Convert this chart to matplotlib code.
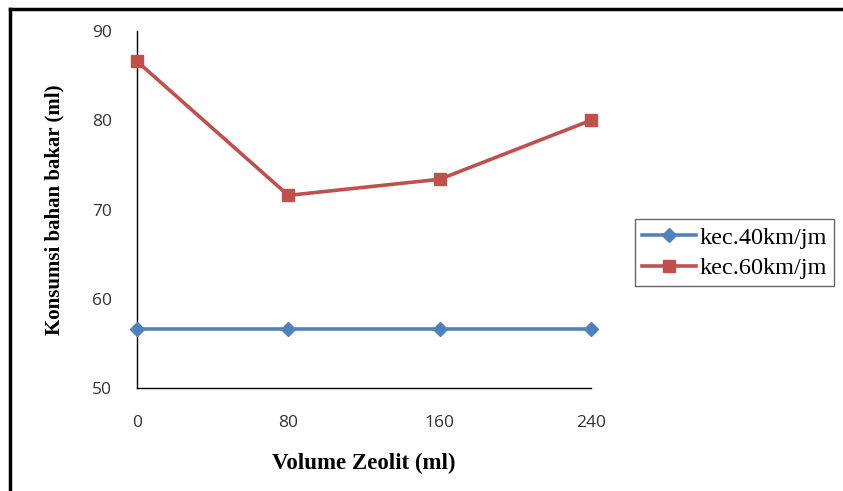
import matplotlib.pyplot as plt
from matplotlib.lines import Line2D

# data
volume = [0, 80, 160, 240]
kec40 = [56.6, 56.6, 56.6, 56.6]
kec60 = [86.6, 71.6, 73.4, 80.0]
yticks = [50, 60, 70, 80, 90]

blue = "#4F81BD"
red = "#C0504D"

fig = plt.figure(figsize=(8.43, 4.91), dpi=100)
ax = fig.add_axes([0.1625, 0.209, 0.5385, 0.728])

ax.plot(volume, kec40, color=blue, lw=2.6, marker="D", markersize=7.5,
        label="kec.40km/jm", clip_on=False, zorder=3)
ax.plot(volume, kec60, color=red, lw=2.6, marker="s", markersize=8.5,
        label="kec.60km/jm", clip_on=False, zorder=3)

ax.set_xlim(0, 240)
ax.set_ylim(50, 90)
ax.set_xticks(volume)
ax.set_yticks(yticks)
ax.tick_params(length=0, labelsize=12.5, labelcolor="#333333")
ax.tick_params(axis="y", pad=18)
ax.tick_params(axis="x", pad=19)
for lab in ax.get_xticklabels() + ax.get_yticklabels():
    lab.set_family("Open Sans")

ax.spines["top"].set_visible(False)
ax.spines["right"].set_visible(False)
ax.spines["left"].set_linewidth(1.0)
ax.spines["bottom"].set_linewidth(1.0)

ax.set_xlabel("Volume Zeolit (ml)", family="Liberation Serif",
              fontweight="bold", fontsize=16.5, labelpad=16)
ax.set_ylabel("Konsumsi bahan bakar (ml)", family="Liberation Serif",
              fontweight="bold", fontsize=15, labelpad=20)

leg = ax.legend(loc="center left", bbox_to_anchor=(1.097, 0.379),
                prop={"family": "Liberation Serif", "size": 17.5},
                frameon=True, fancybox=False, handlelength=2.2,
                handletextpad=0.15, borderpad=0.3, labelspacing=0.35,
                borderaxespad=0)
leg.get_frame().set_edgecolor("#404040")
leg.get_frame().set_linewidth(1.0)

# outer frame (top and left edges)
fig.add_artist(Line2D([0.012, 1.0], [0.982, 0.982], color="black", lw=2.5,
                      transform=fig.transFigure))
fig.add_artist(Line2D([0.012, 0.012], [0.0, 0.982], color="black", lw=2.5,
                      transform=fig.transFigure))

fig.savefig("out.png", dpi=100)
